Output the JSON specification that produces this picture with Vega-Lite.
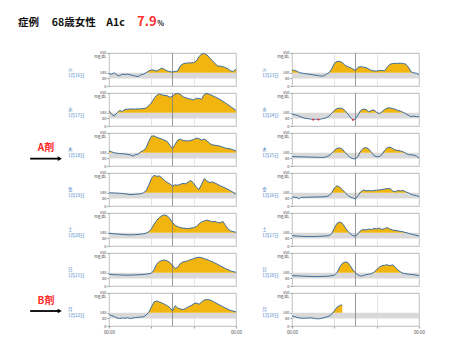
{
"$schema":"https://vega.github.io/schema/vega-lite/v6.json",
"padding":{"left":17,"top":15,"right":5,"bottom":5},
"config":{"font":"Noto Sans CJK JP","view":{"stroke":"#a8a8a8","strokeWidth":0.8}},
"datasets":{"cgm":[
{"c":"L","d":"01-16","lab":"火\n1月16日","t1":"症例　 68歳女性　A1c","t2":"7.9","t3":"%"},
{"c":"L","d":"01-17","lab":"水\n1月17日"},
{"c":"L","d":"01-18","lab":"木\n1月18日","drug":"A剤"},
{"c":"L","d":"01-19","lab":"金\n1月19日"},
{"c":"L","d":"01-20","lab":"土\n1月20日"},
{"c":"L","d":"01-21","lab":"日\n1月21日"},
{"c":"L","d":"01-22","lab":"月\n1月22日","drug":"B剤"},
{"c":"R","d":"01-23","lab":"火\n1月23日"},
{"c":"R","d":"01-24","lab":"水\n1月24日"},
{"c":"R","d":"01-25","lab":"木\n1月25日"},
{"c":"R","d":"01-26","lab":"金\n1月26日"},
{"c":"R","d":"01-27","lab":"土\n1月27日"},
{"c":"R","d":"01-28","lab":"日\n1月28日"},
{"c":"R","d":"01-29","lab":"月\n1月29日"},
{"c":"L","d":"01-16","t":0,"g":130},{"c":"L","d":"01-16","t":0.5,"g":125},{"c":"L","d":"01-16","t":1,"g":140},{"c":"L","d":"01-16","t":1.5,"g":115},{"c":"L","d":"01-16","t":2,"g":108},{"c":"L","d":"01-16","t":2.5,"g":125},{"c":"L","d":"01-16","t":3,"g":122},{"c":"L","d":"01-16","t":3.5,"g":125},{"c":"L","d":"01-16","t":4,"g":118},{"c":"L","d":"01-16","t":4.5,"g":112},{"c":"L","d":"01-16","t":5,"g":105},{"c":"L","d":"01-16","t":5.5,"g":100},{"c":"L","d":"01-16","t":6,"g":118},{"c":"L","d":"01-16","t":6.5,"g":125},{"c":"L","d":"01-16","t":7,"g":140},{"c":"L","d":"01-16","t":7.5,"g":160},{"c":"L","d":"01-16","t":8,"g":170},{"c":"L","d":"01-16","t":8.5,"g":168},{"c":"L","d":"01-16","t":9,"g":158},{"c":"L","d":"01-16","t":9.5,"g":175},{"c":"L","d":"01-16","t":10,"g":190},{"c":"L","d":"01-16","t":10.5,"g":175},{"c":"L","d":"01-16","t":11,"g":160},{"c":"L","d":"01-16","t":11.5,"g":152},{"c":"L","d":"01-16","t":12,"g":148},{"c":"L","d":"01-16","t":12.5,"g":155},{"c":"L","d":"01-16","t":13,"g":158},{"c":"L","d":"01-16","t":13.5,"g":215},{"c":"L","d":"01-16","t":14,"g":235},{"c":"L","d":"01-16","t":14.5,"g":242},{"c":"L","d":"01-16","t":15,"g":245},{"c":"L","d":"01-16","t":15.5,"g":245},{"c":"L","d":"01-16","t":16,"g":248},{"c":"L","d":"01-16","t":16.5,"g":265},{"c":"L","d":"01-16","t":17,"g":310},{"c":"L","d":"01-16","t":17.5,"g":340},{"c":"L","d":"01-16","t":18,"g":345},{"c":"L","d":"01-16","t":18.5,"g":330},{"c":"L","d":"01-16","t":19,"g":300},{"c":"L","d":"01-16","t":19.5,"g":270},{"c":"L","d":"01-16","t":20,"g":240},{"c":"L","d":"01-16","t":20.5,"g":215},{"c":"L","d":"01-16","t":21,"g":210},{"c":"L","d":"01-16","t":21.5,"g":205},{"c":"L","d":"01-16","t":22,"g":195},{"c":"L","d":"01-16","t":22.5,"g":182},{"c":"L","d":"01-16","t":23,"g":160},{"c":"L","d":"01-16","t":23.5,"g":155},{"c":"L","d":"01-16","t":24,"g":180},
{"c":"L","d":"01-17","t":0,"g":160},{"c":"L","d":"01-17","t":0.5,"g":125},{"c":"L","d":"01-17","t":1,"g":105},{"c":"L","d":"01-17","t":1.5,"g":140},{"c":"L","d":"01-17","t":2,"g":165},{"c":"L","d":"01-17","t":2.5,"g":155},{"c":"L","d":"01-17","t":3,"g":175},{"c":"L","d":"01-17","t":4,"g":180},{"c":"L","d":"01-17","t":5,"g":180},{"c":"L","d":"01-17","t":6,"g":182},{"c":"L","d":"01-17","t":7,"g":190},{"c":"L","d":"01-17","t":7.5,"g":215},{"c":"L","d":"01-17","t":8,"g":245},{"c":"L","d":"01-17","t":8.5,"g":290},{"c":"L","d":"01-17","t":9,"g":325},{"c":"L","d":"01-17","t":9.5,"g":340},{"c":"L","d":"01-17","t":10,"g":330},{"c":"L","d":"01-17","t":11,"g":320},{"c":"L","d":"01-17","t":11.5,"g":305},{"c":"L","d":"01-17","t":12,"g":315},{"c":"L","d":"01-17","t":12.5,"g":340},{"c":"L","d":"01-17","t":13,"g":345},{"c":"L","d":"01-17","t":13.5,"g":335},{"c":"L","d":"01-17","t":14,"g":310},{"c":"L","d":"01-17","t":15,"g":290},{"c":"L","d":"01-17","t":15.5,"g":285},{"c":"L","d":"01-17","t":16,"g":275},{"c":"L","d":"01-17","t":16.5,"g":295},{"c":"L","d":"01-17","t":17,"g":290},{"c":"L","d":"01-17","t":17.5,"g":285},{"c":"L","d":"01-17","t":18,"g":335},{"c":"L","d":"01-17","t":18.5,"g":345},{"c":"L","d":"01-17","t":19,"g":335},{"c":"L","d":"01-17","t":20,"g":310},{"c":"L","d":"01-17","t":21,"g":280},{"c":"L","d":"01-17","t":22,"g":245},{"c":"L","d":"01-17","t":23,"g":205},{"c":"L","d":"01-17","t":24,"g":165},
{"c":"L","d":"01-18","t":0,"g":160},{"c":"L","d":"01-18","t":0.5,"g":150},{"c":"L","d":"01-18","t":1,"g":140},{"c":"L","d":"01-18","t":1.5,"g":135},{"c":"L","d":"01-18","t":2,"g":132},{"c":"L","d":"01-18","t":3,"g":128},{"c":"L","d":"01-18","t":4,"g":118},{"c":"L","d":"01-18","t":4.5,"g":105},{"c":"L","d":"01-18","t":5,"g":120},{"c":"L","d":"01-18","t":5.5,"g":125},{"c":"L","d":"01-18","t":6,"g":150},{"c":"L","d":"01-18","t":6.5,"g":165},{"c":"L","d":"01-18","t":7,"g":190},{"c":"L","d":"01-18","t":7.5,"g":260},{"c":"L","d":"01-18","t":8,"g":315},{"c":"L","d":"01-18","t":8.5,"g":320},{"c":"L","d":"01-18","t":9,"g":305},{"c":"L","d":"01-18","t":10,"g":285},{"c":"L","d":"01-18","t":11,"g":260},{"c":"L","d":"01-18","t":11.5,"g":220},{"c":"L","d":"01-18","t":12,"g":185},{"c":"L","d":"01-18","t":12.5,"g":230},{"c":"L","d":"01-18","t":13,"g":275},{"c":"L","d":"01-18","t":13.5,"g":285},{"c":"L","d":"01-18","t":14,"g":270},{"c":"L","d":"01-18","t":15,"g":265},{"c":"L","d":"01-18","t":16,"g":280},{"c":"L","d":"01-18","t":16.5,"g":295},{"c":"L","d":"01-18","t":17,"g":290},{"c":"L","d":"01-18","t":17.5,"g":275},{"c":"L","d":"01-18","t":18,"g":285},{"c":"L","d":"01-18","t":18.5,"g":270},{"c":"L","d":"01-18","t":19,"g":240},{"c":"L","d":"01-18","t":19.5,"g":225},{"c":"L","d":"01-18","t":20,"g":220},{"c":"L","d":"01-18","t":21,"g":210},{"c":"L","d":"01-18","t":22,"g":190},{"c":"L","d":"01-18","t":23,"g":180},{"c":"L","d":"01-18","t":24,"g":160},
{"c":"L","d":"01-19","t":0,"g":140},{"c":"L","d":"01-19","t":1,"g":138},{"c":"L","d":"01-19","t":2,"g":135},{"c":"L","d":"01-19","t":3,"g":130},{"c":"L","d":"01-19","t":4,"g":120},{"c":"L","d":"01-19","t":5,"g":125},{"c":"L","d":"01-19","t":6,"g":130},{"c":"L","d":"01-19","t":6.5,"g":140},{"c":"L","d":"01-19","t":7,"g":160},{"c":"L","d":"01-19","t":7.5,"g":220},{"c":"L","d":"01-19","t":8,"g":290},{"c":"L","d":"01-19","t":8.5,"g":325},{"c":"L","d":"01-19","t":9,"g":315},{"c":"L","d":"01-19","t":9.5,"g":318},{"c":"L","d":"01-19","t":10,"g":300},{"c":"L","d":"01-19","t":10.5,"g":270},{"c":"L","d":"01-19","t":11,"g":250},{"c":"L","d":"01-19","t":11.5,"g":235},{"c":"L","d":"01-19","t":12,"g":210},{"c":"L","d":"01-19","t":12.5,"g":225},{"c":"L","d":"01-19","t":13,"g":220},{"c":"L","d":"01-19","t":13.5,"g":230},{"c":"L","d":"01-19","t":14,"g":240},{"c":"L","d":"01-19","t":14.5,"g":235},{"c":"L","d":"01-19","t":15,"g":255},{"c":"L","d":"01-19","t":15.5,"g":270},{"c":"L","d":"01-19","t":16,"g":240},{"c":"L","d":"01-19","t":16.5,"g":200},{"c":"L","d":"01-19","t":17,"g":175},{"c":"L","d":"01-19","t":17.5,"g":230},{"c":"L","d":"01-19","t":18,"g":290},{"c":"L","d":"01-19","t":18.5,"g":265},{"c":"L","d":"01-19","t":19,"g":250},{"c":"L","d":"01-19","t":19.5,"g":255},{"c":"L","d":"01-19","t":20,"g":245},{"c":"L","d":"01-19","t":21,"g":215},{"c":"L","d":"01-19","t":22,"g":190},{"c":"L","d":"01-19","t":23,"g":160},{"c":"L","d":"01-19","t":24,"g":125},
{"c":"L","d":"01-20","t":0,"g":135},{"c":"L","d":"01-20","t":1,"g":130},{"c":"L","d":"01-20","t":2,"g":125},{"c":"L","d":"01-20","t":3,"g":120},{"c":"L","d":"01-20","t":4,"g":118},{"c":"L","d":"01-20","t":5,"g":120},{"c":"L","d":"01-20","t":6,"g":125},{"c":"L","d":"01-20","t":7,"g":135},{"c":"L","d":"01-20","t":7.5,"g":150},{"c":"L","d":"01-20","t":8,"g":180},{"c":"L","d":"01-20","t":8.5,"g":230},{"c":"L","d":"01-20","t":9,"g":270},{"c":"L","d":"01-20","t":9.5,"g":300},{"c":"L","d":"01-20","t":10,"g":320},{"c":"L","d":"01-20","t":10.5,"g":330},{"c":"L","d":"01-20","t":11,"g":320},{"c":"L","d":"01-20","t":11.5,"g":290},{"c":"L","d":"01-20","t":12,"g":250},{"c":"L","d":"01-20","t":12.5,"g":220},{"c":"L","d":"01-20","t":13,"g":205},{"c":"L","d":"01-20","t":13.5,"g":195},{"c":"L","d":"01-20","t":14,"g":190},{"c":"L","d":"01-20","t":15,"g":185},{"c":"L","d":"01-20","t":16,"g":195},{"c":"L","d":"01-20","t":16.5,"g":205},{"c":"L","d":"01-20","t":17,"g":235},{"c":"L","d":"01-20","t":17.5,"g":255},{"c":"L","d":"01-20","t":18,"g":265},{"c":"L","d":"01-20","t":18.5,"g":275},{"c":"L","d":"01-20","t":19,"g":268},{"c":"L","d":"01-20","t":19.5,"g":255},{"c":"L","d":"01-20","t":20,"g":262},{"c":"L","d":"01-20","t":20.5,"g":250},{"c":"L","d":"01-20","t":21,"g":245},{"c":"L","d":"01-20","t":21.5,"g":262},{"c":"L","d":"01-20","t":22,"g":220},{"c":"L","d":"01-20","t":22.5,"g":180},{"c":"L","d":"01-20","t":23,"g":160},{"c":"L","d":"01-20","t":24,"g":145},
{"c":"L","d":"01-21","t":0,"g":125},{"c":"L","d":"01-21","t":1,"g":120},{"c":"L","d":"01-21","t":2,"g":118},{"c":"L","d":"01-21","t":3,"g":115},{"c":"L","d":"01-21","t":4,"g":115},{"c":"L","d":"01-21","t":5,"g":118},{"c":"L","d":"01-21","t":6,"g":120},{"c":"L","d":"01-21","t":7,"g":125},{"c":"L","d":"01-21","t":8,"g":135},{"c":"L","d":"01-21","t":8.5,"g":170},{"c":"L","d":"01-21","t":9,"g":230},{"c":"L","d":"01-21","t":9.5,"g":260},{"c":"L","d":"01-21","t":10,"g":270},{"c":"L","d":"01-21","t":10.5,"g":275},{"c":"L","d":"01-21","t":11,"g":265},{"c":"L","d":"01-21","t":11.5,"g":250},{"c":"L","d":"01-21","t":12,"g":220},{"c":"L","d":"01-21","t":12.5,"g":185},{"c":"L","d":"01-21","t":13,"g":200},{"c":"L","d":"01-21","t":13.5,"g":240},{"c":"L","d":"01-21","t":14,"g":255},{"c":"L","d":"01-21","t":14.5,"g":260},{"c":"L","d":"01-21","t":15,"g":270},{"c":"L","d":"01-21","t":15.5,"g":280},{"c":"L","d":"01-21","t":16,"g":290},{"c":"L","d":"01-21","t":16.5,"g":300},{"c":"L","d":"01-21","t":17,"g":305},{"c":"L","d":"01-21","t":17.5,"g":300},{"c":"L","d":"01-21","t":18,"g":290},{"c":"L","d":"01-21","t":19,"g":270},{"c":"L","d":"01-21","t":20,"g":245},{"c":"L","d":"01-21","t":21,"g":215},{"c":"L","d":"01-21","t":22,"g":185},{"c":"L","d":"01-21","t":23,"g":160},{"c":"L","d":"01-21","t":24,"g":145},
{"c":"L","d":"01-22","t":0,"g":120},{"c":"L","d":"01-22","t":0.5,"g":110},{"c":"L","d":"01-22","t":1,"g":100},{"c":"L","d":"01-22","t":1.5,"g":85},{"c":"L","d":"01-22","t":2,"g":80},{"c":"L","d":"01-22","t":2.5,"g":85},{"c":"L","d":"01-22","t":3,"g":82},{"c":"L","d":"01-22","t":3.5,"g":88},{"c":"L","d":"01-22","t":4,"g":80},{"c":"L","d":"01-22","t":4.5,"g":85},{"c":"L","d":"01-22","t":5,"g":90},{"c":"L","d":"01-22","t":5.5,"g":92},{"c":"L","d":"01-22","t":6,"g":95},{"c":"L","d":"01-22","t":6.5,"g":98},{"c":"L","d":"01-22","t":7,"g":115},{"c":"L","d":"01-22","t":7.5,"g":145},{"c":"L","d":"01-22","t":8,"g":200},{"c":"L","d":"01-22","t":8.5,"g":255},{"c":"L","d":"01-22","t":9,"g":265},{"c":"L","d":"01-22","t":9.5,"g":255},{"c":"L","d":"01-22","t":10,"g":245},{"c":"L","d":"01-22","t":10.5,"g":230},{"c":"L","d":"01-22","t":11,"g":215},{"c":"L","d":"01-22","t":11.5,"g":195},{"c":"L","d":"01-22","t":12,"g":160},{"c":"L","d":"01-22","t":12.5,"g":215},{"c":"L","d":"01-22","t":13,"g":190},{"c":"L","d":"01-22","t":13.5,"g":180},{"c":"L","d":"01-22","t":14,"g":175},{"c":"L","d":"01-22","t":14.5,"g":185},{"c":"L","d":"01-22","t":15,"g":205},{"c":"L","d":"01-22","t":15.5,"g":215},{"c":"L","d":"01-22","t":16,"g":235},{"c":"L","d":"01-22","t":16.5,"g":245},{"c":"L","d":"01-22","t":17,"g":230},{"c":"L","d":"01-22","t":17.5,"g":255},{"c":"L","d":"01-22","t":18,"g":275},{"c":"L","d":"01-22","t":18.5,"g":280},{"c":"L","d":"01-22","t":19,"g":278},{"c":"L","d":"01-22","t":19.5,"g":265},{"c":"L","d":"01-22","t":20,"g":250},{"c":"L","d":"01-22","t":21,"g":220},{"c":"L","d":"01-22","t":21.5,"g":205},{"c":"L","d":"01-22","t":22,"g":190},{"c":"L","d":"01-22","t":23,"g":165},{"c":"L","d":"01-22","t":24,"g":150},
{"c":"R","d":"01-23","t":0,"g":170},{"c":"R","d":"01-23","t":0.5,"g":165},{"c":"R","d":"01-23","t":1,"g":155},{"c":"R","d":"01-23","t":1.5,"g":140},{"c":"R","d":"01-23","t":2,"g":135},{"c":"R","d":"01-23","t":2.5,"g":130},{"c":"R","d":"01-23","t":3,"g":128},{"c":"R","d":"01-23","t":4,"g":118},{"c":"R","d":"01-23","t":5,"g":110},{"c":"R","d":"01-23","t":5.5,"g":105},{"c":"R","d":"01-23","t":6,"g":108},{"c":"R","d":"01-23","t":6.5,"g":125},{"c":"R","d":"01-23","t":7,"g":140},{"c":"R","d":"01-23","t":7.5,"g":180},{"c":"R","d":"01-23","t":8,"g":240},{"c":"R","d":"01-23","t":8.5,"g":260},{"c":"R","d":"01-23","t":9,"g":262},{"c":"R","d":"01-23","t":9.5,"g":250},{"c":"R","d":"01-23","t":10,"g":220},{"c":"R","d":"01-23","t":10.5,"g":205},{"c":"R","d":"01-23","t":11,"g":195},{"c":"R","d":"01-23","t":11.5,"g":180},{"c":"R","d":"01-23","t":12,"g":165},{"c":"R","d":"01-23","t":12.5,"g":200},{"c":"R","d":"01-23","t":13,"g":205},{"c":"R","d":"01-23","t":13.5,"g":200},{"c":"R","d":"01-23","t":14,"g":195},{"c":"R","d":"01-23","t":14.5,"g":180},{"c":"R","d":"01-23","t":15,"g":165},{"c":"R","d":"01-23","t":15.5,"g":160},{"c":"R","d":"01-23","t":16,"g":158},{"c":"R","d":"01-23","t":16.5,"g":165},{"c":"R","d":"01-23","t":17,"g":165},{"c":"R","d":"01-23","t":17.5,"g":160},{"c":"R","d":"01-23","t":18,"g":200},{"c":"R","d":"01-23","t":18.5,"g":230},{"c":"R","d":"01-23","t":19,"g":238},{"c":"R","d":"01-23","t":19.5,"g":240},{"c":"R","d":"01-23","t":20,"g":240},{"c":"R","d":"01-23","t":20.5,"g":242},{"c":"R","d":"01-23","t":21,"g":238},{"c":"R","d":"01-23","t":21.5,"g":232},{"c":"R","d":"01-23","t":22,"g":200},{"c":"R","d":"01-23","t":22.5,"g":150},{"c":"R","d":"01-23","t":23,"g":140},{"c":"R","d":"01-23","t":23.5,"g":135},{"c":"R","d":"01-23","t":24,"g":122},
{"c":"R","d":"01-24","t":0,"g":125},{"c":"R","d":"01-24","t":0.5,"g":120},{"c":"R","d":"01-24","t":1,"g":112},{"c":"R","d":"01-24","t":1.5,"g":100},{"c":"R","d":"01-24","t":2,"g":90},{"c":"R","d":"01-24","t":2.5,"g":82},{"c":"R","d":"01-24","t":3,"g":78},{"c":"R","d":"01-24","t":3.5,"g":74},{"c":"R","d":"01-24","t":4,"g":68},{"c":"R","d":"01-24","t":4.5,"g":74},{"c":"R","d":"01-24","t":5,"g":69},{"c":"R","d":"01-24","t":5.5,"g":75},{"c":"R","d":"01-24","t":6,"g":80},{"c":"R","d":"01-24","t":6.5,"g":88},{"c":"R","d":"01-24","t":7,"g":105},{"c":"R","d":"01-24","t":7.5,"g":135},{"c":"R","d":"01-24","t":8,"g":165},{"c":"R","d":"01-24","t":8.5,"g":185},{"c":"R","d":"01-24","t":9,"g":190},{"c":"R","d":"01-24","t":9.5,"g":185},{"c":"R","d":"01-24","t":10,"g":165},{"c":"R","d":"01-24","t":10.5,"g":130},{"c":"R","d":"01-24","t":11,"g":95},{"c":"R","d":"01-24","t":11.5,"g":66},{"c":"R","d":"01-24","t":12,"g":75},{"c":"R","d":"01-24","t":12.5,"g":120},{"c":"R","d":"01-24","t":13,"g":165},{"c":"R","d":"01-24","t":13.5,"g":180},{"c":"R","d":"01-24","t":14,"g":175},{"c":"R","d":"01-24","t":14.5,"g":150},{"c":"R","d":"01-24","t":15,"g":165},{"c":"R","d":"01-24","t":15.5,"g":170},{"c":"R","d":"01-24","t":16,"g":145},{"c":"R","d":"01-24","t":16.5,"g":130},{"c":"R","d":"01-24","t":17,"g":150},{"c":"R","d":"01-24","t":17.5,"g":175},{"c":"R","d":"01-24","t":18,"g":190},{"c":"R","d":"01-24","t":18.5,"g":192},{"c":"R","d":"01-24","t":19,"g":185},{"c":"R","d":"01-24","t":19.5,"g":178},{"c":"R","d":"01-24","t":20,"g":165},{"c":"R","d":"01-24","t":20.5,"g":158},{"c":"R","d":"01-24","t":21,"g":145},{"c":"R","d":"01-24","t":21.5,"g":130},{"c":"R","d":"01-24","t":22,"g":115},{"c":"R","d":"01-24","t":22.5,"g":100},{"c":"R","d":"01-24","t":23,"g":105},{"c":"R","d":"01-24","t":23.5,"g":98},{"c":"R","d":"01-24","t":24,"g":100},
{"c":"R","d":"01-25","t":0,"g":100},{"c":"R","d":"01-25","t":1,"g":98},{"c":"R","d":"01-25","t":2,"g":97},{"c":"R","d":"01-25","t":3,"g":95},{"c":"R","d":"01-25","t":4,"g":93},{"c":"R","d":"01-25","t":5,"g":92},{"c":"R","d":"01-25","t":5.5,"g":90},{"c":"R","d":"01-25","t":6,"g":92},{"c":"R","d":"01-25","t":6.5,"g":98},{"c":"R","d":"01-25","t":7,"g":110},{"c":"R","d":"01-25","t":7.5,"g":135},{"c":"R","d":"01-25","t":8,"g":165},{"c":"R","d":"01-25","t":8.5,"g":188},{"c":"R","d":"01-25","t":9,"g":192},{"c":"R","d":"01-25","t":9.5,"g":180},{"c":"R","d":"01-25","t":10,"g":145},{"c":"R","d":"01-25","t":10.5,"g":115},{"c":"R","d":"01-25","t":11,"g":90},{"c":"R","d":"01-25","t":11.5,"g":78},{"c":"R","d":"01-25","t":12,"g":75},{"c":"R","d":"01-25","t":12.5,"g":105},{"c":"R","d":"01-25","t":13,"g":160},{"c":"R","d":"01-25","t":13.5,"g":190},{"c":"R","d":"01-25","t":14,"g":195},{"c":"R","d":"01-25","t":14.5,"g":180},{"c":"R","d":"01-25","t":15,"g":145},{"c":"R","d":"01-25","t":15.5,"g":110},{"c":"R","d":"01-25","t":16,"g":98},{"c":"R","d":"01-25","t":16.5,"g":100},{"c":"R","d":"01-25","t":17,"g":120},{"c":"R","d":"01-25","t":17.5,"g":165},{"c":"R","d":"01-25","t":18,"g":195},{"c":"R","d":"01-25","t":18.5,"g":200},{"c":"R","d":"01-25","t":19,"g":185},{"c":"R","d":"01-25","t":19.5,"g":170},{"c":"R","d":"01-25","t":20,"g":165},{"c":"R","d":"01-25","t":20.5,"g":160},{"c":"R","d":"01-25","t":21,"g":150},{"c":"R","d":"01-25","t":21.5,"g":135},{"c":"R","d":"01-25","t":22,"g":120},{"c":"R","d":"01-25","t":22.5,"g":118},{"c":"R","d":"01-25","t":23,"g":115},{"c":"R","d":"01-25","t":23.5,"g":105},{"c":"R","d":"01-25","t":24,"g":85},
{"c":"R","d":"01-26","t":0,"g":95},{"c":"R","d":"01-26","t":0.5,"g":92},{"c":"R","d":"01-26","t":1,"g":90},{"c":"R","d":"01-26","t":1.3,"g":75},{"c":"R","d":"01-26","t":1.6,"g":90},{"c":"R","d":"01-26","t":2,"g":92},{"c":"R","d":"01-26","t":3,"g":93},{"c":"R","d":"01-26","t":4,"g":95},{"c":"R","d":"01-26","t":5,"g":96},{"c":"R","d":"01-26","t":6,"g":98},{"c":"R","d":"01-26","t":6.5,"g":100},{"c":"R","d":"01-26","t":7,"g":110},{"c":"R","d":"01-26","t":7.5,"g":140},{"c":"R","d":"01-26","t":8,"g":190},{"c":"R","d":"01-26","t":8.5,"g":215},{"c":"R","d":"01-26","t":9,"g":200},{"c":"R","d":"01-26","t":9.5,"g":175},{"c":"R","d":"01-26","t":10,"g":145},{"c":"R","d":"01-26","t":10.5,"g":115},{"c":"R","d":"01-26","t":11,"g":95},{"c":"R","d":"01-26","t":11.5,"g":85},{"c":"R","d":"01-26","t":12,"g":75},{"c":"R","d":"01-26","t":12.5,"g":110},{"c":"R","d":"01-26","t":13,"g":150},{"c":"R","d":"01-26","t":13.5,"g":170},{"c":"R","d":"01-26","t":14,"g":160},{"c":"R","d":"01-26","t":14.5,"g":165},{"c":"R","d":"01-26","t":15,"g":160},{"c":"R","d":"01-26","t":15.5,"g":165},{"c":"R","d":"01-26","t":16,"g":168},{"c":"R","d":"01-26","t":16.5,"g":170},{"c":"R","d":"01-26","t":17,"g":175},{"c":"R","d":"01-26","t":17.5,"g":180},{"c":"R","d":"01-26","t":18,"g":185},{"c":"R","d":"01-26","t":18.5,"g":185},{"c":"R","d":"01-26","t":19,"g":160},{"c":"R","d":"01-26","t":19.5,"g":150},{"c":"R","d":"01-26","t":20,"g":165},{"c":"R","d":"01-26","t":20.5,"g":160},{"c":"R","d":"01-26","t":21,"g":165},{"c":"R","d":"01-26","t":21.5,"g":150},{"c":"R","d":"01-26","t":22,"g":140},{"c":"R","d":"01-26","t":22.5,"g":125},{"c":"R","d":"01-26","t":23,"g":115},{"c":"R","d":"01-26","t":23.5,"g":110},{"c":"R","d":"01-26","t":24,"g":100},
{"c":"R","d":"01-27","t":0,"g":110},{"c":"R","d":"01-27","t":1,"g":105},{"c":"R","d":"01-27","t":2,"g":102},{"c":"R","d":"01-27","t":3,"g":100},{"c":"R","d":"01-27","t":4,"g":100},{"c":"R","d":"01-27","t":5,"g":102},{"c":"R","d":"01-27","t":6,"g":105},{"c":"R","d":"01-27","t":7,"g":110},{"c":"R","d":"01-27","t":7.5,"g":130},{"c":"R","d":"01-27","t":8,"g":190},{"c":"R","d":"01-27","t":8.5,"g":240},{"c":"R","d":"01-27","t":9,"g":255},{"c":"R","d":"01-27","t":9.5,"g":240},{"c":"R","d":"01-27","t":10,"g":200},{"c":"R","d":"01-27","t":10.5,"g":160},{"c":"R","d":"01-27","t":11,"g":130},{"c":"R","d":"01-27","t":11.5,"g":110},{"c":"R","d":"01-27","t":12,"g":105},{"c":"R","d":"01-27","t":12.5,"g":130},{"c":"R","d":"01-27","t":13,"g":165},{"c":"R","d":"01-27","t":13.5,"g":175},{"c":"R","d":"01-27","t":14,"g":170},{"c":"R","d":"01-27","t":14.5,"g":180},{"c":"R","d":"01-27","t":15,"g":175},{"c":"R","d":"01-27","t":15.5,"g":185},{"c":"R","d":"01-27","t":16,"g":180},{"c":"R","d":"01-27","t":16.5,"g":190},{"c":"R","d":"01-27","t":17,"g":175},{"c":"R","d":"01-27","t":17.5,"g":185},{"c":"R","d":"01-27","t":18,"g":195},{"c":"R","d":"01-27","t":18.5,"g":180},{"c":"R","d":"01-27","t":19,"g":170},{"c":"R","d":"01-27","t":20,"g":160},{"c":"R","d":"01-27","t":21,"g":150},{"c":"R","d":"01-27","t":22,"g":135},{"c":"R","d":"01-27","t":23,"g":120},{"c":"R","d":"01-27","t":24,"g":105},
{"c":"R","d":"01-28","t":0,"g":110},{"c":"R","d":"01-28","t":1,"g":108},{"c":"R","d":"01-28","t":2,"g":105},{"c":"R","d":"01-28","t":3,"g":103},{"c":"R","d":"01-28","t":4,"g":100},{"c":"R","d":"01-28","t":5,"g":100},{"c":"R","d":"01-28","t":6,"g":102},{"c":"R","d":"01-28","t":7,"g":105},{"c":"R","d":"01-28","t":8,"g":115},{"c":"R","d":"01-28","t":8.5,"g":140},{"c":"R","d":"01-28","t":9,"g":200},{"c":"R","d":"01-28","t":9.5,"g":240},{"c":"R","d":"01-28","t":10,"g":255},{"c":"R","d":"01-28","t":10.5,"g":250},{"c":"R","d":"01-28","t":11,"g":215},{"c":"R","d":"01-28","t":11.5,"g":170},{"c":"R","d":"01-28","t":12,"g":140},{"c":"R","d":"01-28","t":12.5,"g":115},{"c":"R","d":"01-28","t":13,"g":105},{"c":"R","d":"01-28","t":13.5,"g":110},{"c":"R","d":"01-28","t":14,"g":120},{"c":"R","d":"01-28","t":14.5,"g":125},{"c":"R","d":"01-28","t":15,"g":130},{"c":"R","d":"01-28","t":15.5,"g":145},{"c":"R","d":"01-28","t":16,"g":175},{"c":"R","d":"01-28","t":16.5,"g":200},{"c":"R","d":"01-28","t":17,"g":215},{"c":"R","d":"01-28","t":17.5,"g":220},{"c":"R","d":"01-28","t":18,"g":225},{"c":"R","d":"01-28","t":18.5,"g":215},{"c":"R","d":"01-28","t":19,"g":225},{"c":"R","d":"01-28","t":19.5,"g":200},{"c":"R","d":"01-28","t":20,"g":170},{"c":"R","d":"01-28","t":20.5,"g":150},{"c":"R","d":"01-28","t":21,"g":135},{"c":"R","d":"01-28","t":22,"g":125},{"c":"R","d":"01-28","t":23,"g":120},{"c":"R","d":"01-28","t":24,"g":110},
{"c":"R","d":"01-29","t":0,"g":105},{"c":"R","d":"01-29","t":0.5,"g":100},{"c":"R","d":"01-29","t":1,"g":90},{"c":"R","d":"01-29","t":1.5,"g":85},{"c":"R","d":"01-29","t":2,"g":82},{"c":"R","d":"01-29","t":2.5,"g":83},{"c":"R","d":"01-29","t":3,"g":85},{"c":"R","d":"01-29","t":3.5,"g":86},{"c":"R","d":"01-29","t":4,"g":84},{"c":"R","d":"01-29","t":4.5,"g":78},{"c":"R","d":"01-29","t":5,"g":76},{"c":"R","d":"01-29","t":5.5,"g":80},{"c":"R","d":"01-29","t":6,"g":88},{"c":"R","d":"01-29","t":6.5,"g":95},{"c":"R","d":"01-29","t":7,"g":105},{"c":"R","d":"01-29","t":7.5,"g":125},{"c":"R","d":"01-29","t":8,"g":160},{"c":"R","d":"01-29","t":8.5,"g":200},{"c":"R","d":"01-29","t":9,"g":215},{"c":"R","d":"01-29","t":9.3,"g":225},{"c":"R","d":"01-29","t":9.5,"g":218}
]},
"spacing":19,
"hconcat":[
{"data":{"name":"cgm"},"transform":[{"filter":"datum.c == 'L'"}],
 "facet":{"row":{"field":"d","type":"nominal","title":null,"header":{"labels":false,"title":null}}},
 "spacing":7,
 "bounds":"flush",
 "resolve":{"scale":{"y":"independent"},"axis":{"y":"independent"}},
 "spec":{"width":127,"height":33,
  "resolve":{"scale":{"y":"independent"},"axis":{"y":"independent"}},
  "layer":[
   {"transform":[{"filter":"isValid(datum.lab)"}],"mark":{"type":"rect","color":"#d9d9d9"},"encoding":{"x":{"datum":0,"scale":{"domain":[0,24],"nice":false,"zero":false},"axis":{"values":[0,2,4,6,8,10,12,14,16,18,20,22,24],"labelExpr":"datum.value == 6 ? '06:00' : datum.value == 12 ? '12:00' : datum.value == 18 ? '18:00' : (datum.value == 0 || datum.value == 24) ? '00:00' : ''","labelOverlap":false,"labelSeparation":0,"labelBound":false,"labelFontSize":4.5,"labelColor":"#555","tickSize":2,"tickColor":"#999","domain":false,"grid":true,"gridColor":"#d2d2d2","gridWidth":0.6,"title":null,"labelPadding":1,"labelFlush":false}},"x2":{"datum":24},"y":{"datum":80,"scale":{"domain":[0,350],"nice":false},"axis":null},"y2":{"datum":140}}},
   {"transform":[{"filter":"isValid(datum.g)"}],"mark":{"type":"area","color":"#f2b50f"},
    "encoding":{"x":{"field":"t","type":"quantitative"},
     "y":{"field":"g","type":"quantitative","scale":{"domain":[140,350],"range":[19.8,0],"clamp":true,"nice":false,"zero":false},"axis":null},
     "y2":{"datum":140}}},
   {"transform":[{"filter":"isValid(datum.lab)"}],"mark":{"type":"rule","color":"#808080","strokeWidth":0.8},"encoding":{"x":{"datum":12}}},
   {"transform":[{"filter":"isValid(datum.g)"}],"mark":{"type":"line","color":"#3e6d9c","strokeWidth":1},
    "encoding":{"x":{"field":"t","type":"quantitative"},
     "y":{"field":"g","type":"quantitative","scale":{"domain":[0,350],"nice":false},
      "axis":{"orient":"left","values":[0,80,140,350],"labelExpr":"datum.value == 350 ? ['350','mg/dL'] : datum.label","labelBaseline":{"condition":{"test":"datum.value == 350","value":"alphabetic"},"value":"middle"},"labelFontSize":4,"labelColor":"#444","tickSize":2,"tickColor":"#999","domain":false,"grid":false,"title":null,"labelPadding":1,"labelFlush":false,"labelLineHeight":4.5}}}},
   {"transform":[{"filter":"isValid(datum.g) && datum.g < 70"}],"mark":{"type":"point","filled":true,"color":"#e03030","size":5,"opacity":1},"encoding":{"x":{"field":"t","type":"quantitative"},"y":{"field":"g","type":"quantitative","scale":{"domain":[0,350],"nice":false},"axis":null}}},
   {"transform":[{"filter":"isValid(datum.lab)"}],"mark":{"type":"text","align":"left","baseline":"middle","fontSize":4.5,"color":"#3f83c6","lineBreak":"\n","lineHeight":6},"encoding":{"x":{"datum":-7.75},"y":{"datum":175,"scale":{"domain":[0,350],"nice":false},"axis":null},"text":{"field":"lab"}}},
   {"transform":[{"filter":"datum.drug == 'A剤'"}],"mark":{"type":"text","align":"center","baseline":"middle","fontSize":10,"fontWeight":"bold","color":"#ff2a2a"},"encoding":{"x":{"datum":-11.9},"y":{"datum":190,"scale":{"domain":[0,350],"nice":false},"axis":null},"text":{"field":"drug"}}},
   {"transform":[{"filter":"datum.drug == 'A剤'"}],"mark":{"type":"rule","color":"#000","strokeWidth":1.8},"encoding":{"x":{"datum":-14.9},"x2":{"datum":-9.6},"y":{"datum":78,"scale":{"domain":[0,350],"nice":false},"axis":null}}},
   {"transform":[{"filter":"datum.drug == 'A剤'"}],"mark":{"type":"point","shape":"triangle-right","filled":true,"color":"#000","size":22,"opacity":1},"encoding":{"x":{"datum":-9.3},"y":{"datum":78,"scale":{"domain":[0,350],"nice":false},"axis":null}}},
   {"transform":[{"filter":"datum.drug == 'B剤'"}],"mark":{"type":"text","align":"center","baseline":"middle","fontSize":10,"fontWeight":"bold","color":"#ff2a2a"},"encoding":{"x":{"datum":-11.9},"y":{"datum":265,"scale":{"domain":[0,350],"nice":false},"axis":null},"text":{"field":"drug"}}},
   {"transform":[{"filter":"datum.drug == 'B剤'"}],"mark":{"type":"rule","color":"#000","strokeWidth":1.8},"encoding":{"x":{"datum":-14.9},"x2":{"datum":-9.6},"y":{"datum":159,"scale":{"domain":[0,350],"nice":false},"axis":null}}},
   {"transform":[{"filter":"datum.drug == 'B剤'"}],"mark":{"type":"point","shape":"triangle-right","filled":true,"color":"#000","size":22,"opacity":1},"encoding":{"x":{"datum":-9.3},"y":{"datum":159,"scale":{"domain":[0,350],"nice":false},"axis":null}}},
   {"transform":[{"filter":"isValid(datum.t1)"}],"mark":{"type":"text","align":"left","baseline":"alphabetic","fontSize":10.5,"fontWeight":"bold","color":"#111"},"encoding":{"x":{"datum":-17.2},"y":{"datum":636,"scale":{"domain":[0,350],"nice":false},"axis":null},"text":{"field":"t1"}}},
   {"transform":[{"filter":"isValid(datum.t2)"}],"mark":{"type":"text","align":"left","baseline":"alphabetic","fontSize":13,"fontWeight":"bold","color":"#ff3030"},"encoding":{"x":{"datum":5.3},"y":{"datum":636,"scale":{"domain":[0,350],"nice":false},"axis":null},"text":{"field":"t2"}}},
   {"transform":[{"filter":"isValid(datum.t3)"}],"mark":{"type":"text","align":"left","baseline":"alphabetic","fontSize":7,"fontWeight":"bold","color":"#111"},"encoding":{"x":{"datum":9.1},"y":{"datum":636,"scale":{"domain":[0,350],"nice":false},"axis":null},"text":{"field":"t3"}}}
  ]}},
{"data":{"name":"cgm"},"transform":[{"filter":"datum.c == 'R'"}],
 "facet":{"row":{"field":"d","type":"nominal","title":null,"header":{"labels":false,"title":null}}},
 "spacing":7,
 "bounds":"flush",
 "resolve":{"scale":{"y":"independent"},"axis":{"y":"independent"}},
 "spec":{"width":127,"height":33,
  "resolve":{"scale":{"y":"independent"},"axis":{"y":"independent"}},
  "layer":[
   {"transform":[{"filter":"isValid(datum.lab)"}],"mark":{"type":"rect","color":"#d9d9d9"},"encoding":{"x":{"datum":0,"scale":{"domain":[0,24],"nice":false,"zero":false},"axis":{"values":[0,2,4,6,8,10,12,14,16,18,20,22,24],"labelExpr":"datum.value == 6 ? '06:00' : datum.value == 12 ? '12:00' : datum.value == 18 ? '18:00' : (datum.value == 0 || datum.value == 24) ? '00:00' : ''","labelOverlap":false,"labelSeparation":0,"labelBound":false,"labelFontSize":4.5,"labelColor":"#555","tickSize":2,"tickColor":"#999","domain":false,"grid":true,"gridColor":"#d2d2d2","gridWidth":0.6,"title":null,"labelPadding":1,"labelFlush":false}},"x2":{"datum":24},"y":{"datum":80,"scale":{"domain":[0,350],"nice":false},"axis":null},"y2":{"datum":140}}},
   {"transform":[{"filter":"isValid(datum.g)"}],"mark":{"type":"area","color":"#f2b50f"},
    "encoding":{"x":{"field":"t","type":"quantitative"},
     "y":{"field":"g","type":"quantitative","scale":{"domain":[140,350],"range":[19.8,0],"clamp":true,"nice":false,"zero":false},"axis":null},
     "y2":{"datum":140}}},
   {"transform":[{"filter":"isValid(datum.lab)"}],"mark":{"type":"rule","color":"#808080","strokeWidth":0.8},"encoding":{"x":{"datum":12}}},
   {"transform":[{"filter":"isValid(datum.g)"}],"mark":{"type":"line","color":"#3e6d9c","strokeWidth":1},
    "encoding":{"x":{"field":"t","type":"quantitative"},
     "y":{"field":"g","type":"quantitative","scale":{"domain":[0,350],"nice":false},
      "axis":{"orient":"left","values":[0,80,140,350],"labelExpr":"datum.value == 350 ? ['350','mg/dL'] : datum.label","labelBaseline":{"condition":{"test":"datum.value == 350","value":"alphabetic"},"value":"middle"},"labelFontSize":4,"labelColor":"#444","tickSize":2,"tickColor":"#999","domain":false,"grid":false,"title":null,"labelPadding":1,"labelFlush":false,"labelLineHeight":4.5}}}},
   {"transform":[{"filter":"isValid(datum.g) && datum.g < 70"}],"mark":{"type":"point","filled":true,"color":"#e03030","size":5,"opacity":1},"encoding":{"x":{"field":"t","type":"quantitative"},"y":{"field":"g","type":"quantitative","scale":{"domain":[0,350],"nice":false},"axis":null}}},
   {"transform":[{"filter":"isValid(datum.lab)"}],"mark":{"type":"text","align":"left","baseline":"middle","fontSize":4.5,"color":"#3f83c6","lineBreak":"\n","lineHeight":6},"encoding":{"x":{"datum":-5.6},"y":{"datum":175,"scale":{"domain":[0,350],"nice":false},"axis":null},"text":{"field":"lab"}}}
  ]}}
]
}
